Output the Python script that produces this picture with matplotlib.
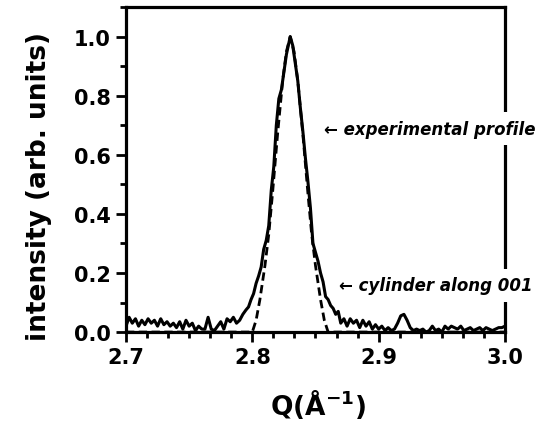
import matplotlib
matplotlib.use("Agg")
import matplotlib.pyplot as plt
from matplotlib.ticker import MultipleLocator

# experimental profile (Q in 1/A, normalised intensity)
q_exp = [2.700, 2.7025, 2.705, 2.7075, 2.710, 2.7125, 2.715, 2.7175, 2.720, 2.7225,
         2.725, 2.7275, 2.730, 2.7325, 2.735, 2.7375, 2.740, 2.7425, 2.745, 2.7475,
         2.750, 2.7525, 2.755, 2.7575, 2.760, 2.7625, 2.765, 2.7675, 2.770, 2.7725,
         2.775, 2.7775, 2.780, 2.7825, 2.785, 2.7875, 2.790, 2.7925,
         2.795, 2.797, 2.799, 2.801, 2.803, 2.805, 2.807, 2.809, 2.811, 2.813,
         2.815, 2.817, 2.819, 2.821, 2.823, 2.825, 2.827, 2.829, 2.830, 2.832,
         2.834, 2.836, 2.838, 2.840, 2.842, 2.844, 2.846, 2.848, 2.850, 2.852,
         2.854, 2.856, 2.858, 2.860, 2.862, 2.864, 2.866, 2.868,
         2.870, 2.8725, 2.875, 2.8775, 2.880, 2.8825, 2.885, 2.8875, 2.890, 2.8925,
         2.895, 2.8975, 2.900, 2.9025, 2.905, 2.9075, 2.910, 2.9125, 2.915, 2.9175,
         2.920, 2.9225, 2.925, 2.9275, 2.930, 2.9325, 2.935, 2.9375, 2.940, 2.9425,
         2.945, 2.9475, 2.950, 2.9525, 2.955, 2.9575, 2.960, 2.9625, 2.965, 2.9675,
         2.970, 2.9725, 2.975, 2.9775, 2.980, 2.9825, 2.985, 2.9875, 2.990, 2.9925,
         2.995, 2.9975, 3.000]
i_exp = [0.020, 0.050, 0.030, 0.045, 0.020, 0.040, 0.025, 0.045, 0.030, 0.040,
         0.020, 0.045, 0.025, 0.035, 0.020, 0.030, 0.015, 0.035, 0.010, 0.040,
         0.020, 0.030, 0.005, 0.020, 0.010, 0.010, 0.050, 0.010, 0.005, 0.020,
         0.035, 0.010, 0.045, 0.035, 0.050, 0.030, 0.040, 0.060,
         0.075, 0.085, 0.110, 0.130, 0.165, 0.190, 0.220, 0.280, 0.310, 0.360,
         0.480, 0.560, 0.700, 0.790, 0.820, 0.880, 0.940, 0.980, 1.000, 0.970,
         0.910, 0.850, 0.760, 0.680, 0.590, 0.510, 0.420, 0.300, 0.270, 0.240,
         0.200, 0.170, 0.120, 0.110, 0.090, 0.080, 0.060, 0.070,
         0.030, 0.045, 0.020, 0.045, 0.030, 0.040, 0.015, 0.040, 0.020, 0.035,
         0.010, 0.025, 0.010, 0.020, 0.005, 0.015, 0.005, 0.010, 0.030, 0.055,
         0.060, 0.040, 0.015, 0.005, 0.010, 0.005, 0.010, 0.000, 0.005, 0.020,
         0.005, 0.010, 0.000, 0.020, 0.010, 0.020, 0.015, 0.010, 0.020, 0.005,
         0.010, 0.015, 0.005, 0.010, 0.015, 0.005, 0.015, 0.010, 0.005, 0.010,
         0.015, 0.015, 0.020]

# cylinder along 001 model
q_fit = [2.700, 2.790, 2.800, 2.803, 2.806, 2.810, 2.813, 2.816, 2.820, 2.824,
         2.827, 2.830, 2.833, 2.836, 2.840, 2.844, 2.847, 2.850, 2.854, 2.857,
         2.860, 2.870, 3.000]
i_fit = [0.000, 0.000, 0.000, 0.040, 0.110, 0.225, 0.330, 0.470, 0.670, 0.850,
         0.950, 1.000, 0.950, 0.850, 0.670, 0.470, 0.330, 0.225, 0.110, 0.040,
         0.000, 0.000, 0.000]

x_ticks = [2.7, 2.8, 2.9, 3.0]
y_ticks = [0.0, 0.2, 0.4, 0.6, 0.8, 1.0]

plt.rcParams['font.family'] = ['DejaVu Sans']
plt.rcParams['font.weight'] = 'bold'

fig = plt.figure(figsize=(5.43, 4.27), dpi=100)
ax = fig.add_axes([0.232, 0.220, 0.698, 0.761])

ax.plot(q_exp, i_exp, color="black", linewidth=2.2, zorder=2)
ax.plot(q_fit, i_fit, color="black", linewidth=2.0, dashes=(3, 1.6), zorder=2)

ax.set_xlim(2.7, 3.0)
ax.set_ylim(0.0, 1.1)
ax.set_xticks(x_ticks)
ax.set_yticks(y_ticks)
ax.xaxis.set_minor_locator(MultipleLocator(0.1 / 6))
ax.yaxis.set_minor_locator(MultipleLocator(0.1))
ax.set_xticklabels([f"{v:.1f}" for v in x_ticks], fontsize=15, fontweight="bold")
ax.set_yticklabels([f"{v:.1f}" for v in y_ticks], fontsize=15, fontweight="bold")

ax.tick_params(axis="both", which="major", direction="out", length=7, width=2, pad=4)
ax.tick_params(axis="both", which="minor", direction="out", length=4, width=2)
ax.tick_params(top=False, right=False, which="both")
for sp in ax.spines.values():
    sp.set_linewidth(2.3)

ax.set_ylabel("intensity (arb. units)", fontsize=19, fontweight="bold")
ax.yaxis.set_label_coords(-0.195, 0.45)
ax.set_xlabel(r"Q(Å$^{\mathbf{-1}}$)", fontsize=19, fontweight="bold")
ax.xaxis.set_label_coords(0.507, -0.17)

box = dict(facecolor="white", edgecolor="none", boxstyle="square,pad=0.45")
ax.text(2.857, 0.688, "← experimental profile", fontsize=12, fontweight="bold",
        fontstyle="italic", ha="left", va="center", bbox=box, clip_on=False, zorder=5)
ax.text(2.869, 0.158, "← cylinder along 001", fontsize=12, fontweight="bold",
        fontstyle="italic", ha="left", va="center", bbox=box, clip_on=False, zorder=5)

fig.savefig("out.png", dpi=100)
